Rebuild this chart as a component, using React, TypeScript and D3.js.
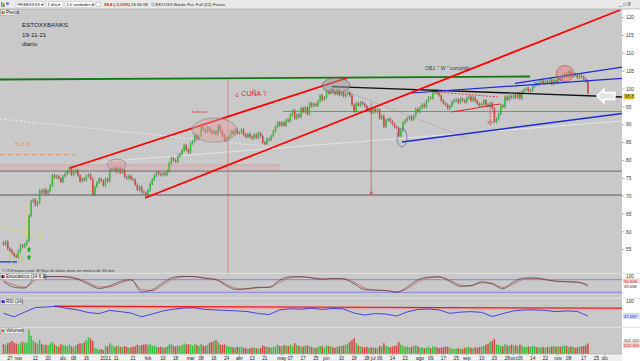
import React, { useEffect } from 'react';
import * as d3 from 'd3';

const W = 640;
const H = 361;
const AXIS_X = 622;

// cierres diarios, ESTOXX Banks (futuro), por mes
const closeOct20 = [56.5, 57.2, 55.3, 54.8, 54.0, 53.3, 52.9];
const closeNov20 = [54.6, 56.2, 55.8, 56.5, 57.5, 64.5, 68.5, 69.0, 67.5, 68.2, 71.5, 71.0, 71.8, 70.8, 71.4, 73.0, 75.8, 75.2, 75.6, 75.0, 74.0];
const closeDec20 = [75.5, 76.2, 76.8, 77.8, 76.0, 76.6, 77.2, 75.8, 74.2, 74.9, 74.5, 75.6, 76.0, 74.8, 70.6, 72.6, 73.8, 74.8, 74.3, 73.0];
const closeJan21 = [74.8, 74.2, 77.2, 77.6, 77.9, 76.8, 77.8, 76.6, 77.3, 75.4, 75.0, 75.6, 74.8, 74.6, 73.2, 71.8, 72.6, 71.2, 71.0, 70.2];
const closeFeb21 = [71.6, 73.4, 74.6, 75.8, 76.6, 76.2, 75.9, 76.4, 76.0, 77.0, 79.2, 80.6, 80.0, 79.6, 81.2, 81.8, 82.8, 84.2, 83.0, 82.2];
const closeMar21 = [84.8, 85.4, 87.2, 86.0, 86.8, 89.4, 88.6, 88.0, 89.2, 88.4, 87.6, 88.2, 87.4, 89.8, 88.2, 87.0, 85.6, 86.2, 86.8, 88.2, 87.4, 88.6, 87.6];
const closeApr21 = [87.8, 88.6, 87.2, 86.6, 87.4, 86.6, 86.2, 87.2, 86.4, 87.6, 86.8, 85.0, 84.6, 86.0, 85.8, 86.8, 88.2, 89.4, 90.6, 89.8];
const closeMay21 = [90.6, 89.8, 91.4, 91.0, 92.8, 94.0, 91.8, 92.8, 92.2, 94.6, 93.6, 94.8, 93.0, 96.0, 95.2, 95.8, 95.4, 96.6, 98.2, 97.0, 97.6];
const closeJun21 = [99.4, 98.8, 99.8, 99.2, 98.6, 99.6, 98.4, 99.0, 98.0, 98.6, 99.0, 98.2, 95.6, 93.8, 96.0, 95.4, 96.2, 95.8, 95.2, 94.0, 94.4, 93.4];
const closeJul21 = [94.4, 93.6, 94.2, 91.8, 92.4, 89.4, 91.2, 91.6, 91.0, 90.2, 89.4, 89.0, 86.8, 88.4, 90.6, 91.2, 91.8, 92.2, 91.4, 92.6, 94.4, 93.6];
const closeAug21 = [94.8, 95.6, 95.0, 96.6, 97.6, 97.4, 99.0, 99.6, 98.8, 98.2, 96.8, 96.0, 95.6, 94.6, 95.2, 96.4, 96.8, 97.0, 96.2, 97.2, 96.8, 96.4];
const closeSep21 = [97.4, 97.8, 96.8, 97.6, 96.6, 95.8, 95.4, 95.8, 96.8, 95.6, 95.2, 96.0, 94.6, 90.8, 91.6, 93.0, 95.4, 95.0, 97.8, 97.0, 98.0, 97.6];
const closeOct21 = [98.4, 97.6, 98.8, 97.4, 99.2, 99.8, 100.2, 99.4, 99.6, 100.8, 101.6, 101.2, 101.8, 102.4, 101.6, 102.2, 101.8, 102.6, 101.4, 102.4, 101.8];
const closeNov21 = [103.2, 102.6, 103.6, 104.2, 103.4, 104.8, 103.6, 104.2, 103.8, 103.2, 103.8, 103.4, 102.8, 102.2, 98.8];
const firstOpen = 57.0;

// volumen (miles de contratos)
const volume = [
  210, 190, 230, 250, 280, 240, 220,
  200, 230, 260, 240, 250, 530, 390, 280, 240, 220, 300, 210, 190, 200, 180, 230, 260, 200, 170, 150, 210,
  190, 180, 170, 200, 160, 150, 180, 210, 230, 220, 250, 300, 360, 330, 280, 120, 110, 90, 100, 80,
  170, 160, 230, 190, 150, 160, 180, 150, 140, 170, 150, 130, 140, 150, 160, 200, 170, 190, 200, 210,
  190, 210, 170, 180, 150, 140, 150, 140, 130, 160, 200, 220, 170, 160, 180, 170, 190, 230, 200, 210,
  200, 180, 210, 190, 170, 220, 180, 170, 190, 240, 260, 280, 300, 250, 200, 190, 210, 170, 160, 150, 140, 130, 150,
  140, 160, 130, 120, 110, 120, 130, 140, 120, 110, 130, 180, 160, 150, 140, 130, 150, 160, 200, 170,
  160, 190, 180, 170, 200, 160, 230, 190, 170, 150, 160, 170, 180, 160, 150, 120, 130, 150, 170, 160, 120,
  180, 170, 160, 140, 130, 150, 160, 170, 180, 200, 220, 260, 300, 340, 230, 180, 160, 150, 140, 150, 130, 140,
  140, 130, 120, 170, 160, 230, 180, 150, 140, 160, 170, 180, 260, 200, 170, 150, 160, 140, 150, 170, 180, 160,
  130, 140, 120, 130, 150, 120, 160, 150, 140, 120, 130, 140, 160, 150, 130, 110, 100, 110, 120, 110, 100, 130,
  140, 150, 130, 120, 140, 130, 150, 160, 170, 200, 220, 260, 280, 320, 200, 190, 170, 160, 220, 180, 170, 200,
  180, 190, 160, 200, 170, 150, 140, 160, 150, 170, 160, 140, 130, 150, 140, 130, 150, 140, 160, 170, 150,
  160, 150, 170, 180, 170, 140, 160, 150, 130, 140, 150, 160, 170, 180, 225,
];

// indicadores, una lectura cada 5 sesiones
const stochK = [72, 44, 40, 90, 95, 95, 93, 82, 58, 38, 50, 72, 80, 22, 32, 65, 92, 96, 94, 86, 80, 50, 32, 38, 44, 44, 78, 94, 94, 88, 82, 86, 84, 60, 32, 30, 28, 20, 45, 80, 92, 94, 72, 48, 52, 70, 60, 36, 70, 88, 88, 80, 72, 70, 68, 50];
const stochD = [74, 55, 44, 78, 92, 95, 94, 86, 66, 45, 46, 64, 78, 34, 28, 55, 85, 94, 95, 89, 82, 58, 38, 36, 42, 44, 68, 90, 94, 90, 84, 85, 85, 68, 40, 31, 29, 23, 37, 70, 89, 93, 78, 55, 51, 65, 62, 43, 60, 83, 88, 82, 74, 71, 69, 56];
const rsi14 = [49, 35, 54, 73, 75, 78, 69, 63, 52, 48, 61, 56, 50, 35, 46, 59, 66, 71, 72, 65, 63, 61, 59, 56, 48, 44, 63, 68, 66, 70, 65, 69, 67, 50, 42, 48, 46, 38, 55, 65, 67, 63, 49, 54, 56, 53, 36, 48, 59, 63, 63, 61, 56, 59, 57, 38];

const holidays = ['2020-12-24', '2020-12-25', '2020-12-31', '2021-01-01', '2021-04-02', '2021-04-05'];
const priceTicks = [55, 60, 65, 70, 75, 80, 85, 90, 95, 100, 105, 110, 115, 120];
const dateTicks: [string, string][] = [
  ['2020-10-27', '27'], ['2020-11-02', 'nov'], ['2020-11-12', '12'], ['2020-11-20', '20'], ['2020-12-01', 'dic'],
  ['2020-12-08', '08'], ['2020-12-16', '16'], ['2021-01-04', '2021'], ['2021-01-11', '11'], ['2021-01-21', '21'],
  ['2021-02-01', 'feb'], ['2021-02-10', '10'], ['2021-02-18', '18'], ['2021-03-01', 'mar'], ['2021-03-08', '08'],
  ['2021-03-16', '16'], ['2021-03-24', '24'], ['2021-04-01', 'abr'], ['2021-04-13', '13'], ['2021-04-21', '21'],
  ['2021-05-03', 'may'], ['2021-05-07', '07'], ['2021-05-17', '17'], ['2021-05-25', '25'], ['2021-06-01', 'jun'],
  ['2021-06-10', '10'], ['2021-06-18', '18'], ['2021-06-28', '28'], ['2021-07-01', 'jul'], ['2021-07-06', '06'],
  ['2021-07-14', '14'], ['2021-07-22', '22'], ['2021-08-02', 'ago'], ['2021-08-09', '09'], ['2021-08-17', '17'],
  ['2021-08-25', '25'], ['2021-09-01', 'sep'], ['2021-09-10', '10'], ['2021-09-20', '20'], ['2021-09-28', '28'],
  ['2021-10-01', 'oct'], ['2021-10-06', '06'], ['2021-10-14', '14'], ['2021-10-22', '22'], ['2021-11-01', 'nov'],
  ['2021-11-08', '08'], ['2021-11-17', '17'], ['2021-11-25', '25'], ['2021-12-01', 'dic'],
];

const UP = '#36c236';
const DOWN = '#d64848';
const BG = '#c9c9c9';
const FONT = 'Liberation Sans, Arial, sans-serif';

const fmt = d3.timeFormat('%Y-%m-%d');
const days = d3.timeDay
  .range(new Date(2020, 9, 22), new Date(2021, 11, 4))
  .filter((d) => d.getDay() !== 0 && d.getDay() !== 6 && !holidays.includes(fmt(d)));
const idxOf = new Map(days.map((d, i) => [fmt(d), i]));

const closes = [
  ...closeOct20, ...closeNov20, ...closeDec20, ...closeJan21, ...closeFeb21, ...closeMar21, ...closeApr21,
  ...closeMay21, ...closeJun21, ...closeJul21, ...closeAug21, ...closeSep21, ...closeOct21, ...closeNov21,
];
const candles = closes.map((c, i) => ({ i, o: i === 0 ? firstOpen : closes[i - 1], c, v: volume[i] }));

const x = d3.scaleLinear().domain([0, 275]).range([3.5, 587.9]);
const yP = d3.scaleLinear().domain([55, 120]).range([249.65, 17.6]);
const yS = d3.scaleLinear().domain([20, 80]).range([292.3, 279.7]);
const yR = d3.scaleLinear().domain([0, 100]).range([325.3, 300.9]);
const yV = d3.scaleLinear().domain([0, 300]).range([353.7, 340]);

const lineP = (pts: number[][]) => d3.line<number[]>().x((d) => x(d[0])).y((d) => yP(d[1]))(pts) || '';

const PaneLabel = ({ y, w, text, c1, c2 }: { y: number; w: number; text: string; c1: string; c2: string }) => (
  <g>
    <rect x={0.5} y={y} width={w} height={6} fill="#ebebeb" stroke="#9a9a9a" strokeWidth={0.5} />
    <rect x={1.5} y={y + 1.5} width={1.6} height={3} fill={c1} />
    <rect x={3.1} y={y + 1.5} width={1.6} height={3} fill={c2} />
    <text x={6} y={y + 4.6} fontSize={4.6} fill="#222">{text}</text>
  </g>
);

const Badge = ({ y, text, bg, fg }: { y: number; text: string; bg: string; fg: string }) => (
  <g>
    <rect x={623} y={y - 3} width={16.5} height={6} fill={bg} />
    <text x={623.8} y={y + 1.6} fontSize={4.3} fill={fg}>{text}</text>
  </g>
);

export default function App() {
  useEffect(() => {
    document.body.style.margin = '0';
  }, []);

  const sampleLine = (vals: number[], ys: d3.ScaleLinear<number, number>, curve: d3.CurveFactory) =>
    d3.line<number>().x((_, k) => x(k * 5)).y((v) => ys(v)).curve(curve)(vals) || '';

  const ellipse = (i: number, p: number, rx: number, ry: number, fill: string, stroke: string, key: string) => (
    <ellipse key={key} cx={x(i)} cy={yP(p)} rx={rx} ry={ry} fill={fill} stroke={stroke} strokeWidth={0.7} />
  );

  const arrowX = x(283.5);
  const arrowY = yP(98.04);

  return (
    <svg width={W} height={H} style={{ position: 'absolute', left: 0, top: 0, display: 'block' }} fontFamily={FONT}>
      <defs>
        <clipPath id="mainClip"><rect x={0} y={9.5} width={AXIS_X} height={263.8} /></clipPath>
        <clipPath id="stochClip"><rect x={0} y={273.3} width={AXIS_X} height={25} /></clipPath>
        <clipPath id="rsiClip"><rect x={0} y={298.3} width={AXIS_X} height={29} /></clipPath>
      </defs>

      {/* fondo */}
      <rect x={0} y={0} width={W} height={H} fill={BG} />
      <rect x={AXIS_X} y={9} width={W - AXIS_X} height={H - 9} fill="#ffffff" />
      <rect x={0} y={354} width={AXIS_X} height={7} fill="#f0f0f0" />
      {[273.3, 298.3, 327.3].map((yy) => (
        <line key={yy} x1={0} x2={W} y1={yy} y2={yy} stroke="#e2e2e2" strokeWidth={1} />
      ))}
      <line x1={0} x2={AXIS_X} y1={354} y2={354} stroke="#a8a8a8" strokeWidth={0.6} />

      {/* barra superior */}
      <rect x={0} y={0} width={W} height={9} fill="#e9e9e9" />
      <line x1={0} x2={W} y1={9} y2={9} stroke="#a0a0a0" strokeWidth={0.6} />
      <rect x={1} y={2} width={1.5} height={5} fill={UP} />
      <rect x={3} y={3.5} width={1.5} height={3.5} fill={DOWN} />
      <circle cx={7.5} cy={3.5} r={1.6} fill="#5a8ad0" />
      <g fontSize={4.3} fill="#222">
        <rect x={16} y={1.5} width={27} height={6} fill="#fafafa" stroke="#b8b8b8" strokeWidth={0.4} />
        <text x={17.5} y={6.1}>FESBXXXX ▾</text>
        <rect x={46} y={1.5} width={17} height={6} fill="#fafafa" stroke="#b8b8b8" strokeWidth={0.4} />
        <text x={47.5} y={6.1}>1 día ▾</text>
        <rect x={65} y={1.5} width={27} height={6} fill="#fafafa" stroke="#b8b8b8" strokeWidth={0.4} />
        <text x={66.5} y={6.1}>1 k unidades ▾</text>
        <rect x={96} y={2.5} width={4} height={4} fill="#fff" stroke="#999" strokeWidth={0.4} />
        <text x={104} y={6.1} fill="#d02020" fontWeight="bold">98,8 (-3,33%)</text>
        <text x={131} y={6.1}>16:34:08</text>
        <circle cx={153} cy={4.4} r={1.4} fill="none" stroke="#4a7ac0" strokeWidth={0.5} />
        <text x={155.5} y={6.1}>ESTOXX Banks Fut. Full (22) Future</text>
        <text x={619} y={6.2} fontSize={5}>_ □ X</text>
      </g>

      {/* panel de precio */}
      <g clipPath="url(#mainClip)">
        <rect x={x(-1.65)} y={yP(78.7)} width={x(130) - x(-1.65)} height={yP(77.0) - yP(78.7)} fill="#d8b0b0" opacity={0.5} />
        <line x1={x(-1.65)} x2={x(130)} y1={yP(78.7)} y2={yP(78.7)} stroke="#e08080" strokeWidth={0.5} />
        {[77.0, 70.3].map((p) => (
          <line key={p} x1={0} x2={AXIS_X} y1={yP(p)} y2={yP(p)} stroke="#7c7c7c" strokeWidth={1.4} />
        ))}
        <line x1={x(-1.65)} x2={x(33.6)} y1={yP(81.6)} y2={yP(81.6)} stroke="#f08a4a" strokeWidth={0.9} strokeDasharray="5 3" />
        <path d={lineP([[-1.65, 61.34], [18.6, 58.54]])} stroke="#f0e040" strokeWidth={0.9} strokeDasharray="3 2" fill="none" />
        <path d={lineP([[11.1, 68.1], [11.1, 57.7]])} stroke="#f0e040" strokeWidth={0.9} strokeDasharray="3 2" fill="none" />
        <path d={lineP([[-1.65, 51.55], [6.4, 51.55]])} stroke="#2030d0" strokeWidth={1.2} fill="none" />
        <path d={lineP([[-1.65, 91.6], [126.8, 83.75]])} stroke="#f4f4f4" strokeWidth={0.8} strokeDasharray="2 2" fill="none" />
        <path d={lineP([[45.4, 79.55], [291.1, 91.04]])} stroke="#ececec" strokeWidth={0.8} fill="none" />
        <path d={lineP([[163.1, 98.88], [218.1, 86.27]])} stroke="#808080" strokeWidth={0.6} strokeDasharray="1.5 1.5" fill="none" />
        <path d={lineP([[131.5, 93.7], [291.1, 93.7]])} stroke="#3aa03a" strokeWidth={0.8} fill="none" />
        <path d={lineP([[-1.65, 102.66], [247.8, 103.5]])} stroke="#107a10" strokeWidth={1.8} fill="none" />
        <line x1={x(105.6)} x2={x(105.6)} y1={yP(102.8)} y2={273.3} stroke="#e06060" strokeWidth={0.6} />

        {/* velas */}
        {candles.map((d) => {
          const up = d.c >= d.o;
          const top = yP(Math.max(d.o, d.c));
          const bot = yP(Math.min(d.o, d.c));
          return (
            <g key={d.i}>
              <line x1={x(d.i)} x2={x(d.i)} y1={top - 1.5} y2={bot + 1.5} stroke="#2e2e2e" strokeWidth={0.5} />
              <rect x={x(d.i) - 0.8} y={top} width={1.6} height={Math.max(0.7, bot - top)} fill={up ? UP : DOWN} />
            </g>
          );
        })}

        {/* trazos */}
        <path d={lineP([[154.6, 100.67], [291.1, 97.76]])} stroke="#111" strokeWidth={1.3} fill="none" />
        <path d={lineP([[187.5, 85.15], [291.1, 93.14]])} stroke="#1c2ad8" strokeWidth={1.3} fill="none" />
        <path d={lineP([[192.2, 98.88], [291.1, 103.0]])} stroke="#1c2ad8" strokeWidth={1.2} fill="none" />
        <path d={lineP([[240.7, 101.6], [291.1, 106.16]])} stroke="#1c2ad8" strokeWidth={1.2} fill="none" />
        <path d={lineP([[31.3, 77.87], [161.6, 103.08]])} stroke="#ff0000" strokeWidth={1.8} fill="none" />
        <path d={lineP([[66.6, 69.47], [290.1, 122.13]])} stroke="#ff0000" strokeWidth={1.8} fill="none" />
        <path d={lineP([[204, 99.16], [232.7, 97.76]])} stroke="#e02020" strokeWidth={0.8} strokeDasharray="2 1.5" fill="none" />
        <path d={lineP([[211.1, 93.56], [233.6, 95.8]])} stroke="#e02020" strokeWidth={1} fill="none" />
        <path d={lineP([[229, 95.5], [229, 90.8]])} stroke="#e02020" strokeWidth={0.7} strokeDasharray="2 1.5" fill="none" />
        <path
          d={`M${x(229) - 2.5},${yP(90.8)} L${x(229) + 2.5},${yP(90.8)} L${x(229)},${yP(89.9)} Z`}
          fill="none"
          stroke="#e02020"
          strokeWidth={0.6}
        />
        <path d={lineP([[173, 96.1], [173, 70.6]])} stroke="#e04040" strokeWidth={0.7} fill="none" />
        <path
          d={`M${x(173) - 1.6},${yP(71.2)} L${x(173) + 1.6},${yP(71.2)} L${x(173)},${yP(70.3)} Z`}
          fill="#e04040"
        />

        {ellipse(53.2, 78.85, 9.5, 5.5, 'rgba(222,150,150,0.45)', '#8a8a8a', 'e1')}
        {ellipse(99.3, 88.5, 22.5, 12, 'rgba(226,160,160,0.45)', '#8a8a8a', 'e2')}
        {ellipse(156.5, 100.98, 14, 7.5, 'rgba(150,150,150,0.45)', '#6a6a6a', 'e3')}
        {ellipse(187.5, 86.4, 5, 9.5, 'none', '#6a5aa8', 'e4')}
        {ellipse(264.2, 104.34, 8.5, 8, 'rgba(235,120,120,0.45)', '#d04040', 'e5')}
        <circle cx={x(5.9)} cy={yP(52.66)} r={6} fill="none" stroke="#b8c850" strokeWidth={0.8} />

        {[54.9, 52.7].map((p) => (
          <path
            key={p}
            d={`M${x(12)},${yP(p) - 3} l2.5,2.6 h-1.4 v2.4 h-2.2 v-2.4 h-1.4 Z`}
            fill="#22b022"
          />
        ))}

        <path
          d={`M${arrowX - 9},${arrowY} L${arrowX - 2},${arrowY - 7} L${arrowX - 2},${arrowY - 3.5} L${arrowX + 9},${arrowY - 3.5} L${arrowX + 9},${arrowY + 3.5} L${arrowX - 2},${arrowY + 3.5} L${arrowX - 2},${arrowY + 7} Z`}
          fill="#e4e4e4"
          stroke="#ffffff"
          strokeWidth={1.4}
        />

        <text x={x(109)} y={yP(98.04)} fontSize={7} fill="#e82020">¿ CUÑA ?</text>
        <text x={x(88.7)} y={yP(93.28)} fontSize={4.4} fill="#e04040">balneas</text>
        <text x={x(198.4)} y={yP(105.3)} fontSize={5} fill="#3a3a3a">OBJ. " W " cumplido</text>
        <text x={x(5.4)} y={yP(84.0)} fontSize={5} fill="#f08a4a">61,8 %</text>
      </g>

      <g fontSize={6.2} fill="#1a1a1a">
        <text x={22} y={27}>ESTOXXBANKS</text>
        <text x={22} y={36.5}>19-11-21</text>
        <text x={22} y={45.5}>diario</text>
      </g>
      <text x={2} y={271.6} fontSize={4.1} fontStyle="italic" fill="#333">
        © IT-Finance.com. El flujo de datos tiene un retraso de 15 min
      </text>
      <PaneLabel y={9.6} w={17} text="Precio" c1={DOWN} c2={UP} />

      {/* eje de precio */}
      {priceTicks.map((p) => (
        <g key={p}>
          <line x1={AXIS_X} x2={AXIS_X + 2.5} y1={yP(p)} y2={yP(p)} stroke="#666" strokeWidth={0.5} />
          <text x={626} y={yP(p) + 1.7} fontSize={4.8} fill="#333">{p}</text>
        </g>
      ))}
      <rect x={623.5} y={yP(98.8) + 0.6} width={11} height={5.6} fill="#e8c830" />
      <text x={624.5} y={yP(98.8) + 5} fontSize={4.8} fill="#333">98,8</text>

      {/* estocástico */}
      <g clipPath="url(#stochClip)">
        {[80, 20].map((v) => (
          <line key={v} x1={0} x2={AXIS_X} y1={yS(v)} y2={yS(v)} stroke="#7474dc" strokeWidth={0.8} />
        ))}
        <path d={sampleLine(stochD, yS, d3.curveMonotoneX)} fill="none" stroke="#c86a6a" strokeWidth={0.9} />
        <path d={sampleLine(stochK, yS, d3.curveMonotoneX)} fill="none" stroke="#3a3030" strokeWidth={0.6} />
      </g>
      <PaneLabel y={273.6} w={43} text="Estocástico (14 6 3)" c1="#111" c2="#d03030" />
      <text x={626} y={277.5} fontSize={4.8} fill="#333">100</text>
      <Badge y={281.5} text="55,606" bg="#f2d0d0" fg="#c83030" />
      <Badge y={286} text="49,688" bg="#ffffff" fg="#333" />

      {/* RSI */}
      <g clipPath="url(#rsiClip)">
        <path
          d={d3.line<number[]>().x((d) => x(d[0])).y((d) => yR(d[1]) + 1.2)([[24, 78], [291, 70]]) || ''}
          stroke="#eaa8a8"
          strokeWidth={1.6}
          fill="none"
        />
        <path
          d={d3.line<number[]>().x((d) => x(d[0])).y((d) => yR(d[1]))([[24, 78], [291, 70]]) || ''}
          stroke="#ee2020"
          strokeWidth={1.3}
          fill="none"
        />
        <path d={sampleLine(rsi14, yR, d3.curveLinear)} fill="none" stroke="#2222e6" strokeWidth={0.8} />
      </g>
      <PaneLabel y={298.6} w={22} text="RSI (14)" c1="#2222e6" c2="#2222e6" />
      <text x={626} y={302.5} fontSize={4.8} fill="#333">100</text>
      <Badge y={316} text="37,587" bg="#d4d8f4" fg="#2a2ad0" />

      {/* volumen */}
      {candles.map((d) => (
        <rect
          key={d.i}
          x={x(d.i) - 0.75}
          y={yV(d.v)}
          width={1.5}
          height={yV(0) - yV(d.v)}
          fill={d.c >= d.o ? UP : DOWN}
        />
      ))}
      <PaneLabel y={327.8} w={22} text="Volumen" c1={DOWN} c2={UP} />
      <text x={623.8} y={341.6} fontSize={4.3} fill="#333">300.000</text>
      <Badge y={345} text="223.316" bg="#f2d0d0" fg="#c83030" />

      {/* eje temporal */}
      {dateTicks.map(([ds, label]) => {
        const i = idxOf.get(ds);
        if (i === undefined) return null;
        return (
          <g key={ds + label}>
            <line x1={x(i)} x2={x(i)} y1={354} y2={355.5} stroke="#777" strokeWidth={0.5} />
            <text x={x(i)} y={359.8} fontSize={4.8} textAnchor="middle" fill="#222">{label}</text>
          </g>
        );
      })}
    </svg>
  );
}
